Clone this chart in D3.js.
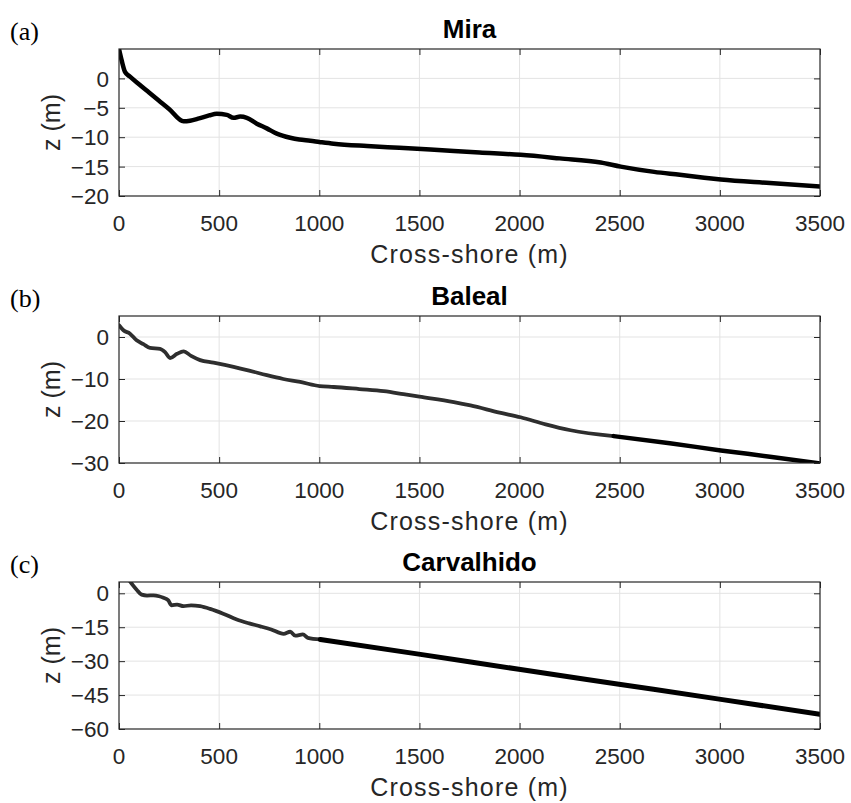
<!DOCTYPE html>
<html lang="en">
<script src="https://d3js.org/d3.v7.min.js"></script>
<style>
    body {margin: 0; background: white;}
    text {font-family: "Liberation Sans", Arial, sans-serif; fill: #262626;}
    .grid line {stroke: #e3e3e3; stroke-width: 1;}
    .frame {fill: none; stroke: #262626; stroke-width: 1.2;}
    .tick line {stroke: #262626;}
    .ticklabel {font-size: 22.5px;}
    .title {font-size: 26px; font-weight: bold; fill: #000; text-anchor: middle;}
    .xlabel {font-size: 25px; text-anchor: middle; letter-spacing: 1.2px;}
    .ylabel {font-size: 25px; text-anchor: middle;}
    .panel {font-family: "Liberation Serif", "Times New Roman", serif; font-size: 26px; fill: #000;}
</style>
<body>
    <svg width="851" height="803"></svg>
</body>
<script>
    // cross-shore distance ticks (shared)
    var xTicks = [0, 500, 1000, 1500, 2000, 2500, 3000, 3500];

    // Mira profile
    var miraX = [0, 13, 30, 55, 100, 150, 200, 250, 322, 355, 400, 450, 488, 538, 572, 605, 638, 688, 738, 788, 855, 900, 955, 1000, 1072, 1238, 1400, 1555, 1800, 2005, 2200, 2405, 2505, 2672, 2800, 2922, 3005, 3250, 3500];
    var miraZ = [5, 3.1, 1.1, 0.3, -1.0, -2.4, -3.8, -5.2, -7.3, -7.2, -6.8, -6.3, -6.0, -6.2, -6.7, -6.5, -6.7, -7.7, -8.5, -9.4, -10.1, -10.4, -10.6, -10.8, -11.1, -11.5, -11.8, -12.1, -12.6, -13.0, -13.6, -14.3, -15.0, -15.9, -16.4, -16.9, -17.2, -17.8, -18.4];
    var miraYTicks = [0, -5, -10, -15, -20];

    // Baleal profile: surveyed part, then extended part
    var balealX = [0, 22, 55, 88, 122, 155, 205, 230, 255, 290, 322, 360, 405, 472, 572, 650, 738, 820, 905, 1002, 1072, 1200, 1322, 1420, 1500, 1672, 1755, 1900, 2005, 2130, 2255, 2470];
    var balealZ = [2.8, 1.6, 0.8, -0.8, -1.7, -2.6, -2.8, -3.6, -5.0, -4.0, -3.4, -4.5, -5.5, -6.1, -7.1, -8.0, -9.1, -10.0, -10.7, -11.7, -11.9, -12.4, -12.9, -13.6, -14.2, -15.5, -16.3, -18.0, -19.1, -20.8, -22.2, -23.6];
    var balealExtX = [2470, 2750, 3005, 3250, 3500];
    var balealExtZ = [-23.6, -25.3, -27.0, -28.5, -30.1];
    var balealYTicks = [0, -10, -20, -30];

    // Carvalhido profile: surveyed part, then extended part
    var carvX = [55, 70, 88, 113, 140, 172, 200, 222, 245, 263, 290, 322, 360, 405, 455, 520, 588, 650, 705, 760, 822, 855, 880, 918, 943, 1005];
    var carvZ = [5.3, 3.5, 1.6, -0.6, -1.0, -0.9, -1.3, -2.0, -3.0, -5.3, -5.0, -5.7, -5.3, -5.7, -6.9, -9.0, -11.6, -13.3, -14.6, -16.0, -17.9, -17.0, -18.7, -18.2, -19.7, -20.4];
    var carvExtX = [1005, 1505, 2005, 2505, 3005, 3500];
    var carvExtZ = [-20.4, -27.0, -33.7, -40.3, -46.9, -53.5];
    var carvYTicks = [0, -15, -30, -45, -60];

    var svg = d3.select("svg");
    var left = 119, right = 820;

    var x = d3.scaleLinear().domain([0, 3500]).range([left, right]);

    function zip(xs, zs) {
        return xs.map(function(v, i) { return [v, zs[i]]; });
    }

    var panels = [
        {id: "a", name: "Mira", top: 49, bottom: 196, yMin: -20, ticks: miraYTicks,
         parts: [{pts: zip(miraX, miraZ), color: "#000", width: 4.5}]},
        {id: "b", name: "Baleal", top: 316, bottom: 463, yMin: -30, ticks: balealYTicks,
         parts: [{pts: zip(balealX, balealZ), color: "#2e2e2e", width: 3.8},
                 {pts: zip(balealExtX, balealExtZ), color: "#000", width: 4.5}]},
        {id: "c", name: "Carvalhido", top: 582, bottom: 729, yMin: -60, ticks: carvYTicks,
         parts: [{pts: zip(carvX, carvZ), color: "#2e2e2e", width: 3.8},
                 {pts: zip(carvExtX, carvExtZ), color: "#000", width: 5}]}
    ];

    panels.forEach(function(p) {
        var y = d3.scaleLinear().domain([p.yMin, 5]).range([p.bottom, p.top]);
        var g = svg.append("g");

        // grid
        var grid = g.append("g").attr("class", "grid");
        grid.selectAll(".gx").data(xTicks.slice(1, -1)).enter().append("line")
            .attr("x1", function(d){return x(d);}).attr("x2", function(d){return x(d);})
            .attr("y1", p.top).attr("y2", p.bottom);
        grid.selectAll(".gy").data(p.ticks.slice(0, -1)).enter().append("line")
            .attr("x1", left).attr("x2", right)
            .attr("y1", function(d){return y(d);}).attr("y2", function(d){return y(d);});

        // axes (inward ticks on all four sides)
        var fmt = function(d){ return d < 0 ? "\u2212" + Math.abs(d) : d; };
        g.append("g").attr("transform", "translate(0," + p.bottom + ")")
            .call(d3.axisTop(x).tickValues(xTicks).tickSize(6).tickFormat(""));
        g.append("g").attr("transform", "translate(0," + p.top + ")")
            .call(d3.axisBottom(x).tickValues(xTicks).tickSize(6).tickFormat(""));
        g.append("g").attr("transform", "translate(" + left + ",0)")
            .call(d3.axisRight(y).tickValues(p.ticks).tickSize(6).tickFormat(""));
        g.append("g").attr("transform", "translate(" + right + ",0)")
            .call(d3.axisLeft(y).tickValues(p.ticks).tickSize(6).tickFormat(""));
        g.selectAll(".domain").remove();

        g.selectAll(".xt").data(xTicks).enter().append("text")
            .attr("class", "ticklabel")
            .attr("x", function(d){return x(d);})
            .attr("y", p.bottom + 35)
            .attr("text-anchor", "middle")
            .text(function(d){return d;});
        g.selectAll(".yt").data(p.ticks).enter().append("text")
            .attr("class", "ticklabel")
            .attr("x", left - 10)
            .attr("y", function(d){return y(d);})
            .attr("dy", "0.36em")
            .attr("text-anchor", "end")
            .text(fmt);

        // profile lines
        var clipId = "clip-" + p.id;
        g.append("clipPath").attr("id", clipId).append("rect")
            .attr("x", left).attr("y", p.top).attr("width", right - left).attr("height", p.bottom - p.top);
        var line = d3.line().curve(d3.curveMonotoneX)
            .x(function(d){return x(d[0]);}).y(function(d){return y(d[1]);});
        g.selectAll(".profile").data(p.parts).enter().append("path")
            .attr("clip-path", "url(#" + clipId + ")")
            .attr("fill", "none")
            .attr("stroke", function(d){return d.color;})
            .attr("stroke-width", function(d){return d.width;})
            .attr("stroke-linejoin", "round")
            .attr("stroke-linecap", "round")
            .attr("d", function(d){return line(d.pts);});

        g.append("rect").attr("class", "frame")
            .attr("x", left).attr("y", p.top).attr("width", right - left).attr("height", p.bottom - p.top);

        // labels
        g.append("text").attr("class", "title")
            .attr("x", (left + right) / 2).attr("y", p.top - 11).text(p.name);
        g.append("text").attr("class", "xlabel")
            .attr("x", (left + right) / 2).attr("y", p.bottom + 67).text("Cross-shore (m)");
        g.append("text").attr("class", "ylabel")
            .attr("transform", "translate(60," + ((p.top + p.bottom) / 2) + ") rotate(-90)")
            .text("z (m)");
        g.append("text").attr("class", "panel")
            .attr("x", 10).attr("y", p.top - 9).text("(" + p.id + ")");
    });
</script>
</html>
